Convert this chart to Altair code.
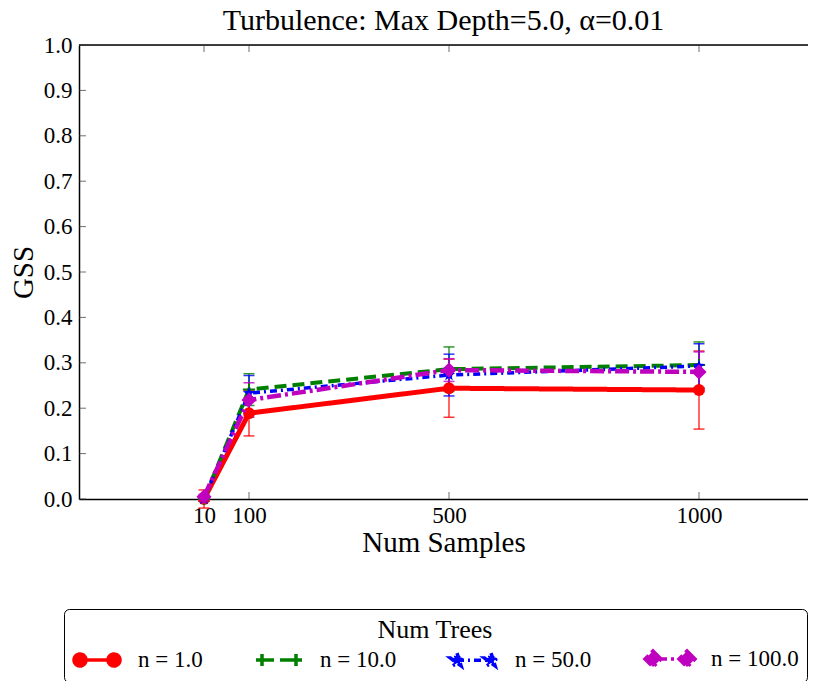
import altair as alt
import pandas as pd

# ---------------- data ----------------
samples = [10, 100, 500, 1000]
series_names = ["n = 1.0", "n = 10.0", "n = 50.0", "n = 100.0"]

gss_n1 = [0.0, 0.189, 0.244, 0.240]
err_n1 = [0.020, 0.050, 0.064, 0.086]
gss_n10 = [0.0, 0.241, 0.286, 0.295]
err_n10 = [0.005, 0.035, 0.049, 0.051]
gss_n50 = [0.0, 0.233, 0.273, 0.293]
err_n50 = [0.005, 0.039, 0.046, 0.049]
gss_n100 = [0.005, 0.218, 0.284, 0.280]
err_n100 = [0.005, 0.038, 0.025, 0.044]

x_ticks = [10, 100, 500, 1000]
y_ticks = [0.0, 0.1, 0.2, 0.3, 0.4, 0.5, 0.6, 0.7, 0.8, 0.9, 1.0]

# ---------------- styles ----------------
FONT = "Liberation Serif"
colors = ["#ff0000", "#008000", "#0000ff", "#bf00bf"]
dashes = [[1, 0], [12, 6], [7, 4, 2, 4], [14, 4, 3, 4]]
widths = [5, 4, 3.5, 4.5]

star = [(0, -1), (0.235, -0.324), (0.951, -0.309), (0.380, 0.124), (0.588, 0.809),
        (0, 0.4), (-0.588, 0.809), (-0.380, 0.124), (-0.951, -0.309), (-0.235, -0.324)]


def star_path(cx, cy, r):
    pts = ["%.3f,%.3f" % (cx + r * px, cy + r * py) for px, py in star]
    return "M" + "L".join(pts) + "Z"


def circle_path(cx, r):
    return "M%.2f,0A%.2f,%.2f 0 1,0 %.2f,0A%.2f,%.2f 0 1,0 %.2f,0Z" % (
        cx - r, r, r, cx + r, r, r, cx - r)


def plus_path(cx, r):
    return "M%.2f,0L%.2f,0M%.2f,%.2fL%.2f,%.2f" % (cx - r, cx + r, cx, -r, cx, r)


def diamond_path(cx, r):
    return "M%.2f,%.2fL%.2f,0L%.2f,%.2fL%.2f,0Z" % (cx, -r, cx + r, cx, r, cx - r)


L0, L1 = -0.4, 3.0
seg = "M%.2f,0L%.2f,0" % (L0, L1)
legend_paths = [
    seg + circle_path(L0, 0.6) + circle_path(L1, 0.6),
    seg + plus_path(L0, 0.6) + plus_path(L1, 0.6),
    seg + star_path(L0, 0, 0.7) + star_path(L1, 0, 0.7),
    seg + diamond_path(L0, 0.8) + diamond_path(L1, 0.8),
]
marker_shapes = ["circle", "M-1,0L1,0M0,-1L0,1", star_path(0, 0, 1), "diamond"]
marker_filled = [True, False, True, True]
marker_sizes = [140, 150, 170, 230]

PLOT_W = 729
XMIN, XMAX = -240, 1218

axis_common = dict(labelFont=FONT, labelFontSize=23, labelColor="black",
                   titleFont=FONT, titleFontSize=29, titleFontWeight="normal",
                   titleColor="black", ticks=False, grid=False,
                   domainColor="black", domainWidth=1.5, labelOverlap=False)


def xenc(field):
    return alt.X(field, type="quantitative",
                 scale=alt.Scale(domain=[XMIN, XMAX], nice=False, zero=False),
                 axis=alt.Axis(values=x_ticks, format="d", title="Num Samples",
                               labelPadding=5, titlePadding=1, **axis_common))


def yenc(field):
    return alt.Y(field, type="quantitative",
                 scale=alt.Scale(domain=[0, 1], nice=False, zero=False),
                 axis=alt.Axis(values=y_ticks, format=".1f", title="GSS",
                               labelPadding=7, titlePadding=5, **axis_common))


gss_all = [gss_n1, gss_n10, gss_n50, gss_n100]
err_all = [err_n1, err_n10, err_n50, err_n100]

frames = []
for name, g, e in zip(series_names, gss_all, err_all):
    frames.append(pd.DataFrame({
        "x": samples, "y": g,
        "lo": [a - b for a, b in zip(g, e)],
        "hi": [a + b for a, b in zip(g, e)],
        "series": name,
    }))
all_df = pd.concat(frames, ignore_index=True)

layers = []

# frame top border and inward ticks
layers.append(alt.Chart(pd.DataFrame({"v": [1.0]})).mark_rule(
    color="black", strokeWidth=1.5).encode(y=yenc("v")))
xt = pd.DataFrame({"t": x_ticks})
yt = pd.DataFrame({"t": y_ticks})
layers.append(alt.Chart(xt).mark_tick(orient="vertical", size=7, thickness=1, color="#333",
                                      yOffset=-3.5).encode(x=xenc("t"), y=alt.datum(0)))
layers.append(alt.Chart(xt).mark_tick(orient="vertical", size=7, thickness=1, color="#333",
                                      yOffset=3.5).encode(x=xenc("t"), y=alt.datum(1)))
layers.append(alt.Chart(yt).mark_tick(orient="horizontal", size=7, thickness=1, color="#333",
                                      xOffset=3.5).encode(x=alt.datum(XMIN), y=yenc("t")))

# series: error bars first, then lines and markers
for i, df in enumerate(frames):
    c = colors[i]
    base = alt.Chart(df)
    layers.append(base.mark_rule(color=c, strokeWidth=1.5, opacity=0.8).encode(
        x=xenc("x"), y=yenc("lo"), y2="hi"))
    layers.append(base.mark_tick(orient="horizontal", size=11, thickness=1.5, color=c,
                                 opacity=0.8).encode(x=xenc("x"), y=yenc("lo")))
    layers.append(base.mark_tick(orient="horizontal", size=11, thickness=1.5, color=c,
                                 opacity=0.8).encode(x=xenc("x"), y=yenc("hi")))
for i, df in enumerate(frames):
    c = colors[i]
    base = alt.Chart(df)
    layers.append(base.mark_line(color=c, strokeWidth=widths[i], strokeDash=dashes[i]).encode(
        x=xenc("x"), y=yenc("y")))
    if marker_filled[i]:
        pm = base.mark_point(shape=marker_shapes[i], filled=True, size=marker_sizes[i],
                             color=c, opacity=1)
    else:
        pm = base.mark_point(shape=marker_shapes[i], filled=False, size=marker_sizes[i],
                             color=c, opacity=1, strokeWidth=2)
    layers.append(pm.encode(x=xenc("x"), y=yenc("y")))

# legend (built from the series scales; this layer draws no visible marks)
leg = alt.Legend(title="Num Trees", orient="none", legendX=-15, legendY=564,
                 direction="horizontal", columns=4, gridAlign="each", columnPadding=46,
                 padding=8, strokeColor="black", cornerRadius=5, fillColor="white",
                 titleFont=FONT, titleFontSize=26, titleFontWeight="normal",
                 titleColor="black", titleAnchor="middle", titleAlign="center",
                 titlePadding=4, labelFont=FONT, labelFontSize=23, labelColor="black",
                 labelOffset=42, symbolSize=400, symbolStrokeWidth=3.5, symbolOpacity=1,
                 labelLimit=300)
dom = series_names
layers.append(alt.Chart(all_df).transform_filter("false").mark_point(
    filled=True, size=400, strokeWidth=3.5, opacity=1).encode(
    x=xenc("x"), y=yenc("y"),
    color=alt.Color("series:N", scale=alt.Scale(domain=dom, range=colors), legend=leg),
    stroke=alt.Stroke("series:N", scale=alt.Scale(domain=dom, range=colors), legend=leg),
    shape=alt.Shape("series:N", scale=alt.Scale(domain=dom, range=legend_paths), legend=leg),
    strokeDash=alt.StrokeDash("series:N", scale=alt.Scale(domain=dom, range=dashes), legend=leg),
))

chart = alt.layer(*layers).properties(
    width=PLOT_W, height=454,
    title=alt.Title("Turbulence: Max Depth=5.0, α=0.01", font=FONT, fontSize=30,
                    fontWeight="normal", color="black", anchor="middle",
                    baseline="alphabetic", offset=0, dy=26),
    autosize=alt.AutoSizeParams(type="none"),
    padding={"left": 71, "top": 37, "right": 0, "bottom": 182},
).configure_view(stroke=None).configure_title(
    font=FONT, fontSize=30, fontWeight="normal", color="black"
).configure(background="white", font=FONT)

chart.save("out.html", embed_options={"renderer": "svg", "actions": False})
